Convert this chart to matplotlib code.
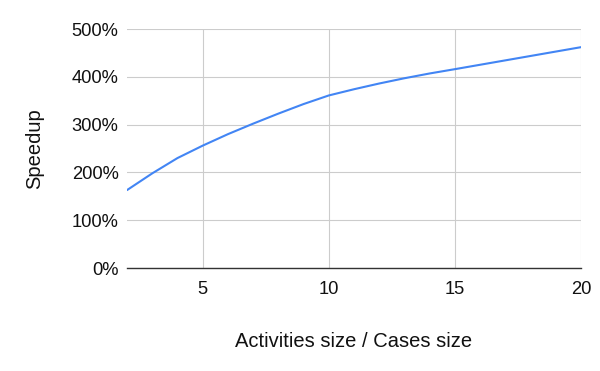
import matplotlib
matplotlib.use("Agg")
import matplotlib.pyplot as plt
from matplotlib.ticker import FuncFormatter

# values
ratio = [2, 3, 4, 5, 6, 7, 8, 9, 10, 11, 12, 13, 14, 15, 20]
speedup = [163, 198, 230, 256, 280, 302, 323, 343, 361, 374, 386, 397, 407, 416, 462]
y_ticks = [0, 100, 200, 300, 400, 500]
x_ticks = [5, 10, 15, 20]

plt.rcParams['font.family'] = ['Liberation Sans', 'DejaVu Sans']

fig = plt.figure(figsize=(6, 3.71), dpi=100)
ax = fig.add_axes([0.2117, 0.2776, 0.7566, 0.6442])

ax.plot(ratio, speedup, color='#4285F4', linewidth=1.5, solid_capstyle='round')

ax.set_xlim(2, 20)
ax.set_ylim(0, 500)
ax.set_xticks(x_ticks)
ax.set_yticks(y_ticks)
ax.yaxis.set_major_formatter(FuncFormatter(lambda v, p: f'{int(v)}%'))

ax.grid(True, color='#cccccc', linewidth=0.8)
ax.set_axisbelow(True)
for side in ['top', 'right', 'left']:
    ax.spines[side].set_visible(False)
ax.spines['bottom'].set_color('#333333')
ax.spines['bottom'].set_linewidth(1.0)
ax.tick_params(length=0, labelsize=13.2, colors='#111111')
ax.tick_params(axis='y', pad=6)
ax.tick_params(axis='x', pad=9)

ax.set_xlabel('Activities size / Cases size', fontsize=14.5, color='#111111', labelpad=25)
ax.set_ylabel('Speedup', fontsize=14.5, color='#111111', labelpad=20)

fig.savefig('out.png', dpi=100, facecolor='white')
